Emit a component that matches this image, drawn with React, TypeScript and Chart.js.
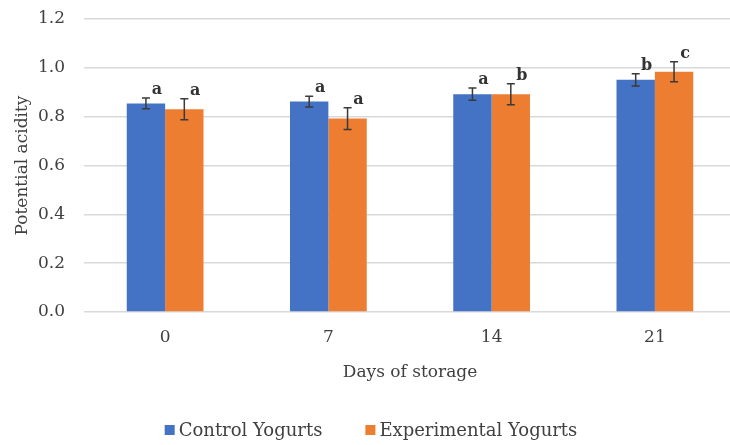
import React, { useEffect, useRef } from "react";
import { Chart, registerables } from "chart.js";

Chart.register(...registerables);

const categories = ["0", "7", "14", "21"];
const controlValues = [0.854, 0.862, 0.892, 0.951];
const experimentalValues = [0.83, 0.792, 0.892, 0.984];
const controlErrors = [0.022, 0.022, 0.025, 0.025];
const experimentalErrors = [0.043, 0.045, 0.043, 0.041];
const controlLetters = ["a", "a", "a", "b"];
const experimentalLetters = ["a", "a", "b", "c"];
const yTicks = [0, 0.2, 0.4, 0.6, 0.8, 1.0, 1.2];

const FONT = "'DejaVu Serif', serif";
const TEXT = "#404040";

export default function App() {
  const ref = useRef<HTMLCanvasElement | null>(null);

  useEffect(() => {
    document.body.style.margin = "0";
    const canvas = ref.current!;
    const errors = [controlErrors, experimentalErrors];
    const letters = [controlLetters, experimentalLetters];

    const extras = {
      id: "extras",
      afterDatasetsDraw(chart: any) {
        const ctx = chart.ctx;
        const y = chart.scales.y;
        ctx.save();
        chart.data.datasets.forEach((ds: any, di: number) => {
          const meta = chart.getDatasetMeta(di);
          meta.data.forEach((bar: any, i: number) => {
            const v = ds.data[i];
            const e = errors[di][i];
            const top = y.getPixelForValue(v + e);
            const bot = y.getPixelForValue(v - e);
            const x = bar.x;
            ctx.strokeStyle = "#3a3a3a";
            ctx.lineWidth = 1.5;
            ctx.beginPath();
            ctx.moveTo(x, top);
            ctx.lineTo(x, bot);
            ctx.moveTo(x - 4, top);
            ctx.lineTo(x + 4, top);
            ctx.moveTo(x - 4, bot);
            ctx.lineTo(x + 4, bot);
            ctx.stroke();
            ctx.fillStyle = "#333";
            ctx.font = `bold 16px ${FONT}`;
            ctx.textAlign = "center";
            ctx.textBaseline = "middle";
            ctx.fillText(letters[di][i], x + 11, top - 8);
          });
        });
        // legend
        ctx.font = `18px ${FONT}`;
        ctx.textBaseline = "middle";
        ctx.textAlign = "left";
        const box = 10, gap = 4, spacing = 43;
        const items = chart.data.datasets.map((ds: any) => ({
          text: ds.label,
          color: ds.backgroundColor,
          w: box + gap + ctx.measureText(ds.label).width,
        }));
        const total = items.reduce((s: number, it: any) => s + it.w, 0) + spacing * (items.length - 1);
        let lx = chart.width / 2 - total / 2;
        const ly = 430;
        items.forEach((it: any) => {
          ctx.fillStyle = it.color;
          ctx.fillRect(lx, ly - box / 2, box, box);
          ctx.fillStyle = TEXT;
          ctx.fillText(it.text, lx + box + gap, ly + 1);
          lx += it.w + spacing;
        });
        ctx.restore();
      },
    };

    const chart = new Chart(canvas, {
      type: "bar",
      data: {
        labels: categories,
        datasets: [
          {
            label: "Control Yogurts",
            data: controlValues,
            backgroundColor: "#4472C4",
            categoryPercentage: 0.47,
            barPercentage: 1,
          },
          {
            label: "Experimental Yogurts",
            data: experimentalValues,
            backgroundColor: "#ED7D31",
            categoryPercentage: 0.47,
            barPercentage: 1,
          },
        ],
      },
      options: {
        responsive: false,
        animation: false,
        layout: { padding: { top: 19, left: 8, right: 5.5, bottom: 54 } },
        plugins: {
          legend: { display: false },
          tooltip: { enabled: false },
        },
        scales: {
          x: {
            afterFit: (scale: any) => {
              scale.height = 79;
              scale.paddingLeft = 0;
              scale.paddingRight = 0;
            },
            grid: { display: false, drawTicks: false },
            border: { display: false },
            ticks: { color: TEXT, font: { family: FONT, size: 17 }, padding: 15 },
            title: {
              display: true,
              text: "Days of storage",
              color: TEXT,
              font: { family: FONT, size: 17 },
              padding: { top: 20, bottom: 8 },
            },
          },
          y: {
            min: 0,
            max: 1.2,
            afterBuildTicks: (scale: any) => {
              scale.ticks = yTicks.map((v) => ({ value: v }));
            },
            afterFit: (scale: any) => {
              scale.width = 75.5;
              scale.paddingTop = 0;
              scale.paddingBottom = 0;
            },
            grid: { color: "#d9d9d9", lineWidth: 1.5, drawTicks: false },
            border: { display: false },
            ticks: {
              color: TEXT,
              font: { family: FONT, size: 17 },
              padding: 18.5,
              callback: (v: any) => Number(v).toFixed(1),
            },
            title: {
              display: true,
              text: "Potential acidity",
              color: TEXT,
              font: { family: FONT, size: 17 },
              padding: { top: 4, bottom: 4 },
            },
          },
        },
      },
      plugins: [extras],
    });
    return () => chart.destroy();
  }, []);

  return (
    <div style={{ position: "fixed", left: 0, top: 0, width: 730, height: 445, overflow: "hidden", background: "#fff" }}>
      <canvas ref={ref} width={742} height={445} style={{ width: 742, height: 445, display: "block" }} />
    </div>
  );
}
